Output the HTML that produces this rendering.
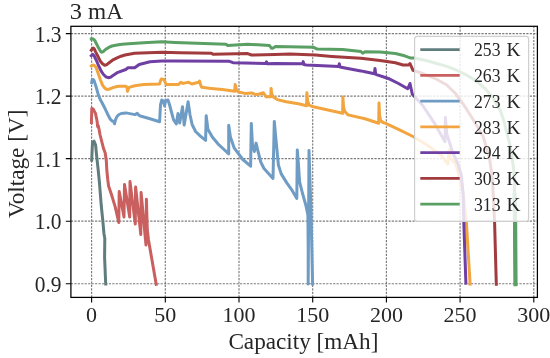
<!DOCTYPE html>
<html><head><meta charset="utf-8"><style>
html,body{margin:0;padding:0;background:#fff;}
svg{display:block;will-change:transform;font-family:"Liberation Serif",serif;}
text{-webkit-font-smoothing:antialiased;}
text{fill:#262626;}
</style></head><body>
<svg width="550" height="358" viewBox="0 0 550 358"><rect width="550" height="358" fill="#fff"/><path d="M91.60,297.4 V26.3 M165.30,297.4 V26.3 M239.00,297.4 V26.3 M312.70,297.4 V26.3 M386.40,297.4 V26.3 M460.10,297.4 V26.3 M533.80,297.4 V26.3 M70.9,283.70 H537.4 M70.9,221.18 H537.4 M70.9,158.65 H537.4 M70.9,96.13 H537.4 M70.9,33.60 H537.4" stroke="#7a7a7a" stroke-width="1.15" stroke-dasharray="2.2 1.25" fill="none"/><g fill="none" stroke-width="3.0" stroke-linejoin="round" stroke-linecap="square"><path d="M91.7,160.1 L92.5,142.3 L94.0,141.1 L95.6,145.1 L96.8,157.3 L98.2,170.0 L99.5,183.4 L101.2,205.0 L102.8,220.6 L104.0,234.0 L104.8,238.5 L104.6,257.6 L105.7,284.0" stroke="#617c7c"/><path d="M91.4,122.6 L91.8,108.4 L93.0,108.8 L95.5,113.4 L97.2,121.8 L97.6,126.5 L98.2,125.5 L99.0,129.0 L100.1,135.0 L103.5,148.4 L104.6,151.2 L105.2,153.0 L106.3,160.7 L106.8,170.0 L107.8,180.0 L108.6,186.0 L111.7,195.2 L115.2,206.9 L118.8,222.5 L119.2,191.5 L124.0,217.0 L124.5,184.4 L129.7,217.0 L130.0,181.6 L135.3,224.0 L135.6,187.0 L140.8,234.6 L141.1,192.6 L146.0,245.0 L146.4,199.2 L147.3,230.0 L148.5,240.0 L156.2,284.2" stroke="#c9605f"/><path d="M91.7,82.6 L92.3,79.6 L93.2,79.4 L94.2,80.9 L96.3,87.5 L98.4,95.2 L100.2,99.5 L101.9,102.5 L104.0,106.5 L106.1,110.8 L108.3,115.5 L110.3,119.2 L112.0,120.8 L113.7,121.6 L114.5,123.8 L115.5,119.8 L117.0,116.5 L119.0,114.5 L121.2,113.5 L126.0,112.9 L135.0,114.6 L137.2,113.4 L139.5,115.7 L150.0,118.8 L159.6,121.8 L160.5,105.0 L161.8,100.0 L163.5,101.0 L164.6,106.0 L165.5,101.0 L168.0,100.0 L169.6,105.0 L173.5,119.6 L176.3,124.0 L178.0,113.4 L179.7,123.0 L182.5,106.7 L184.2,125.0 L188.1,101.7 L190.0,114.7 L192.2,124.8 L195.6,131.5 L200.1,135.9 L205.6,140.4 L206.2,115.8 L207.9,129.2 L212.3,137.0 L217.9,143.8 L222.4,148.0 L228.7,153.8 L228.7,125.3 L230.4,137.0 L234.3,148.2 L242.8,159.5 L250.6,166.2 L251.3,123.6 L252.5,145.0 L254.4,151.5 L256.1,143.1 L257.8,150.4 L260.7,161.8 L264.0,168.5 L273.0,178.5 L274.3,121.4 L276.0,140.0 L278.4,165.0 L281.2,173.9 L286.8,182.9 L292.3,190.7 L296.8,198.5 L297.3,150.1 L298.5,165.0 L299.6,181.8 L302.4,193.0 L305.8,205.0 L307.9,215.0 L308.2,250.0 L308.2,284.0 L309.0,150.6 L309.8,175.0 L311.0,210.0 L312.6,284.0" stroke="#6e9cc4"/><path d="M91.3,66.0 L91.7,65.6 L93.4,65.0 L95.0,66.0 L96.1,67.8 L97.5,71.5 L98.9,75.6 L100.5,80.0 L102.3,84.6 L104.0,87.3 L106.0,89.0 L107.5,89.5 L109.5,89.0 L112.3,87.9 L116.0,86.8 L119.0,86.3 L125.8,86.3 L127.0,87.0 L127.4,91.3 L129.1,87.4 L134.7,85.7 L143.6,84.6 L159.5,84.0 L161.2,78.9 L164.0,79.5 L166.2,84.5 L178.5,84.5 L180.8,82.3 L183.0,83.4 L188.6,82.3 L191.9,84.0 L198.6,82.3 L199.5,81.0 L200.9,85.6 L201.7,87.3 L211.2,88.4 L222.3,89.5 L234.8,91.3 L235.1,84.5 L235.7,86.0 L236.5,90.0 L238.0,91.8 L244.7,93.4 L251.4,92.9 L255.9,94.6 L259.5,94.0 L263.4,92.8 L266.2,96.8 L270.8,96.8 L271.1,88.4 L271.6,93.0 L272.9,96.8 L277.3,99.6 L286.3,101.8 L299.7,104.0 L306.6,105.8 L306.9,92.8 L307.6,101.0 L309.2,105.1 L312.2,106.5 L342.6,113.3 L342.9,97.0 L343.6,107.5 L344.8,111.5 L348.0,114.9 L365.0,118.7 L378.7,123.2 L379.0,103.0 L379.6,115.5 L380.6,120.5 L383.0,122.5 L385.1,123.1 L398.5,129.3 L413.0,136.5 L426.6,144.8 L441.2,155.3 L447.9,164.0 L449.0,150.0 L450.5,158.0 L455.7,164.0 L459.0,175.0 L463.5,195.0 L466.4,222.8 L470.1,284.2" stroke="#f2a43e"/><path d="M91.3,55.7 L92.7,54.3 L94.0,55.5 L96.2,60.0 L98.5,65.5 L101.2,71.2 L103.5,74.5 L106.0,76.8 L108.2,77.7 L110.5,77.2 L113.0,75.5 L117.9,72.3 L125.8,69.5 L128.0,67.8 L134.7,67.8 L139.2,64.5 L150.0,61.7 L161.8,60.9 L175.0,60.9 L229.5,61.3 L233.0,62.7 L265.9,63.4 L266.5,61.8 L267.2,63.8 L275.0,63.4 L302.7,63.8 L303.2,61.6 L303.8,64.6 L306.4,64.9 L333.6,66.2 L338.8,66.4 L339.3,63.8 L340.0,67.0 L345.0,68.0 L360.9,70.9 L365.0,71.8 L374.4,73.8 L375.0,68.4 L375.7,74.4 L389.2,78.8 L398.5,83.5 L407.7,88.8 L410.0,83.5 L412.3,94.2 L422.4,105.0 L434.9,123.9 L445.0,141.7 L445.4,117.6 L446.7,133.6 L452.4,151.8 L458.0,164.0 L461.3,175.0 L463.2,195.0 L463.8,222.3 L465.9,283.1" stroke="#6f3fa3"/><path d="M91.3,50.2 L92.3,48.8 L93.4,48.1 L94.5,49.3 L95.5,51.6 L98.0,56.5 L100.4,61.3 L102.5,63.8 L104.6,65.2 L106.5,64.8 L108.5,63.2 L110.1,62.0 L113.5,59.6 L117.1,57.8 L121.0,56.2 L125.0,55.0 L134.5,53.3 L161.8,52.2 L180.0,52.7 L211.4,53.3 L213.0,54.3 L247.7,53.6 L251.4,55.0 L275.0,54.5 L290.0,54.0 L315.5,55.1 L331.8,56.4 L360.9,58.2 L380.0,60.4 L395.4,62.7 L403.0,65.0 L408.5,65.0 L410.0,63.5 L413.0,70.4 L420.0,72.5 L428.6,75.8 L437.0,79.5 L446.8,85.0 L455.0,93.0 L464.0,105.2 L473.4,120.0 L483.1,136.4 L489.4,157.4 L492.5,180.0 L494.6,222.8 L496.3,284.2" stroke="#a23b3d"/><path d="M91.3,39.0 L93.4,39.0 L94.8,40.5 L96.2,43.2 L98.5,47.8 L100.5,51.2 L101.8,52.2 L103.2,51.6 L105.5,49.5 L108.7,47.4 L112.0,46.0 L115.7,45.3 L120.0,44.5 L125.0,43.9 L143.6,42.7 L161.8,41.8 L175.0,42.4 L225.9,44.2 L227.7,45.5 L247.7,44.2 L269.5,45.5 L271.4,48.2 L272.7,48.2 L275.5,46.4 L313.6,47.3 L317.3,49.1 L342.7,49.6 L360.9,51.5 L362.7,53.3 L365.0,51.8 L380.0,51.9 L395.4,53.5 L404.6,55.8 L410.8,58.1 L414.0,58.0 L425.0,60.2 L434.1,62.7 L446.8,66.4 L455.0,69.5 L465.0,74.3 L475.1,80.1 L485.2,88.5 L493.5,98.5 L500.2,110.3 L503.6,120.0 L510.4,146.9 L513.5,167.8 L514.5,180.0 L514.7,222.3 L515.4,284.2" stroke="#5a9f63"/><path d="M514.6,195 L515.1,222 L515.5,284.2" stroke="#5a9f63" stroke-width="4.2"/></g><rect x="414.6" y="36.3" width="114.0" height="185.0" rx="2.5" fill="#fff" fill-opacity="0.82" stroke="#cfcfcf" stroke-width="1.2"/><line x1="420.3" x2="459.7" y1="49.6" y2="49.6" stroke="#617c7c" stroke-width="2.7"/><text x="474.0" y="56.2" font-size="18" textLength="26.5" lengthAdjust="spacingAndGlyphs">253</text><text x="506.6" y="56.2" font-size="18" textLength="14" lengthAdjust="spacingAndGlyphs">K</text><line x1="420.3" x2="459.7" y1="75.4" y2="75.4" stroke="#c9605f" stroke-width="2.7"/><text x="474.0" y="82.0" font-size="18" textLength="26.5" lengthAdjust="spacingAndGlyphs">263</text><text x="506.6" y="82.0" font-size="18" textLength="14" lengthAdjust="spacingAndGlyphs">K</text><line x1="420.3" x2="459.7" y1="101.1" y2="101.1" stroke="#6e9cc4" stroke-width="2.7"/><text x="474.0" y="107.7" font-size="18" textLength="26.5" lengthAdjust="spacingAndGlyphs">273</text><text x="506.6" y="107.7" font-size="18" textLength="14" lengthAdjust="spacingAndGlyphs">K</text><line x1="420.3" x2="459.7" y1="126.9" y2="126.9" stroke="#f2a43e" stroke-width="2.7"/><text x="474.0" y="133.5" font-size="18" textLength="26.5" lengthAdjust="spacingAndGlyphs">283</text><text x="506.6" y="133.5" font-size="18" textLength="14" lengthAdjust="spacingAndGlyphs">K</text><line x1="420.3" x2="459.7" y1="152.7" y2="152.7" stroke="#6f3fa3" stroke-width="2.7"/><text x="474.0" y="159.3" font-size="18" textLength="26.5" lengthAdjust="spacingAndGlyphs">294</text><text x="506.6" y="159.3" font-size="18" textLength="14" lengthAdjust="spacingAndGlyphs">K</text><line x1="420.3" x2="459.7" y1="178.4" y2="178.4" stroke="#a23b3d" stroke-width="2.7"/><text x="474.0" y="185.0" font-size="18" textLength="26.5" lengthAdjust="spacingAndGlyphs">303</text><text x="506.6" y="185.0" font-size="18" textLength="14" lengthAdjust="spacingAndGlyphs">K</text><line x1="420.3" x2="459.7" y1="204.2" y2="204.2" stroke="#5a9f63" stroke-width="2.7"/><text x="474.0" y="210.8" font-size="18" textLength="26.5" lengthAdjust="spacingAndGlyphs">313</text><text x="506.6" y="210.8" font-size="18" textLength="14" lengthAdjust="spacingAndGlyphs">K</text><rect x="70.9" y="26.3" width="466.5" height="271.09999999999997" fill="none" stroke="#000" stroke-width="1.25"/><path d="M91.60,297.4 v5.1 M165.30,297.4 v5.1 M239.00,297.4 v5.1 M312.70,297.4 v5.1 M386.40,297.4 v5.1 M460.10,297.4 v5.1 M533.80,297.4 v5.1 M70.9,283.70 h-5.1 M70.9,221.18 h-5.1 M70.9,158.65 h-5.1 M70.9,96.13 h-5.1 M70.9,33.60 h-5.1" stroke="#000" stroke-width="1.1"/><text x="91.60" y="321.5" font-size="22" text-anchor="middle">0</text><text x="165.30" y="321.5" font-size="22" text-anchor="middle">50</text><text x="239.00" y="321.5" font-size="22" text-anchor="middle">100</text><text x="312.70" y="321.5" font-size="22" text-anchor="middle">150</text><text x="386.40" y="321.5" font-size="22" text-anchor="middle">200</text><text x="460.10" y="321.5" font-size="22" text-anchor="middle">250</text><text x="533.80" y="321.5" font-size="22" text-anchor="middle">300</text><text x="61.5" y="291.60" font-size="22.5" text-anchor="end" textLength="26.8" lengthAdjust="spacingAndGlyphs">0.9</text><text x="61.5" y="229.08" font-size="22.5" text-anchor="end" textLength="26.8" lengthAdjust="spacingAndGlyphs">1.0</text><text x="61.5" y="166.55" font-size="22.5" text-anchor="end" textLength="26.8" lengthAdjust="spacingAndGlyphs">1.1</text><text x="61.5" y="104.03" font-size="22.5" text-anchor="end" textLength="26.8" lengthAdjust="spacingAndGlyphs">1.2</text><text x="61.5" y="41.50" font-size="22.5" text-anchor="end" textLength="26.8" lengthAdjust="spacingAndGlyphs">1.3</text><text x="303.4" y="349.3" font-size="23" text-anchor="middle" textLength="150" lengthAdjust="spacingAndGlyphs">Capacity [mAh]</text><text transform="translate(24.4,163.8) rotate(-90)" x="0" y="0" font-size="23" text-anchor="middle" textLength="108.5" lengthAdjust="spacingAndGlyphs">Voltage [V]</text><text x="69.8" y="19.4" font-size="24" textLength="12.2" lengthAdjust="spacingAndGlyphs">3</text><text x="88" y="19.4" font-size="24" textLength="35" lengthAdjust="spacingAndGlyphs">mA</text></svg>
</body></html>
